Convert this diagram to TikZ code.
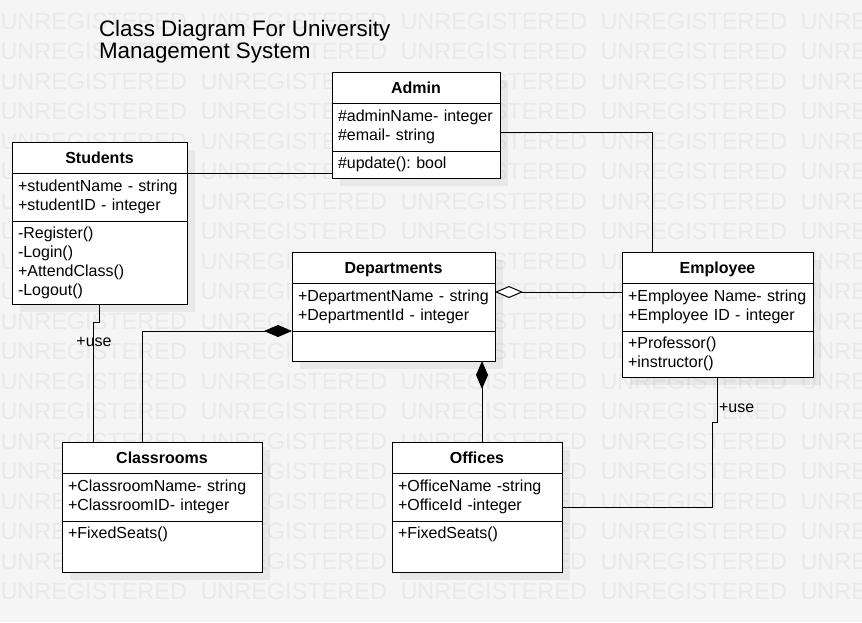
\documentclass[tikz,border=0pt]{standalone}
\usepackage{fontspec}
\setmainfont{Liberation Sans}
\usetikzlibrary{arrows.meta,shadows}
\definecolor{bggray}{HTML}{F5F5F5}
\definecolor{wmgray}{HTML}{E9E9E9}

\begin{document}
\frenchspacing
\begin{tikzpicture}
  [x=0.75pt,y=-0.75pt,line width=0.75pt,font=\fontsize{12}{14.25}\selectfont,
   wmtext/.style={anchor=west,inner sep=0pt,text=wmgray,font=\fontsize{17.6}{18}\selectfont},
   boxshadow/.style={drop shadow={shadow xshift=6pt,shadow yshift=-6pt,fill=black,opacity=0.05}},
   head/.style={draw,fill=white,anchor=north west,outer sep=0pt,boxshadow,
     font=\fontsize{12}{14.25}\selectfont\bfseries,minimum width=#1,minimum height=23.25pt,
     text height=8.6pt,text depth=0pt},
   part/.style 2 args={draw,fill=white,anchor=north west,outer sep=0pt,boxshadow,align=left,
     inner xsep=4.5pt,inner ysep=0pt,text width=#1,minimum height=#2},
   comp/.style={-{Diamond[length=21pt,width=9pt]}},
   aggr/.style={-{Diamond[open,fill=white,length=21pt,width=9pt]}},
   lbl/.style={inner sep=0pt}]

  \useasboundingbox (0,0) rectangle (862,622);
  \fill[bggray] (0,0) rectangle (862,622);

  % watermark
  \foreach \r in {0,...,19}
    \foreach \c in {0,...,4}
      \node[wmtext] (wm\r-\c) at (200*\c,21.5+30*\r) {UNREGISTERED};

  \node[anchor=north west,align=left,inner sep=0pt,font=\fontsize{16.8}{16.2}\selectfont] (title)
    at (98.5,20) {Class Diagram For University\\Management System};

  % classes
  \node[head=131.25pt] (stuH) at (12,142) {Students};
  \node[part={122.25pt}{36pt}] (stuA) at (stuH.south west) {+studentName - string\\+studentID - integer};
  \node[part={122.25pt}{62.25pt}] (stuM) at (stuA.south west) {-Register()\\-Login()\\+AttendClass()\\-Logout()};

  \node[head=126pt] (admH) at (332,72) {Admin};
  \node[part={117pt}{36pt}] (admA) at (admH.south west) {\#adminName- integer\\\#email- string};
  \node[part={117pt}{20.25pt}] (admM) at (admA.south west) {\#update(): bool};

  \node[head=152.25pt] (depH) at (292,252) {Departments};
  \node[part={143.25pt}{36pt}] (depA) at (depH.south west) {+DepartmentName - string\\+DepartmentId - integer};
  \node[part={143.25pt}{22.5pt}] (depM) at (depA.south west) {};

  \node[head=143.25pt] (empH) at (622,252) {Employee};
  \node[part={134.25pt}{36pt}] (empA) at (empH.south west) {+Employee Name- string\\+Employee ID - integer};
  \node[part={134.25pt}{34.5pt}] (empM) at (empA.south west) {+Professor()\\+instructor()};

  \node[head=150pt] (clsH) at (62,442) {Classrooms};
  \node[part={141pt}{36pt}] (clsA) at (clsH.south west) {+ClassroomName- string\\+ClassroomID- integer};
  \node[part={141pt}{38.25pt},text depth=20.4pt] (clsM) at (clsA.south west) {+FixedSeats()};

  \node[head=127.5pt] (offH) at (392,442) {Offices};
  \node[part={118.5pt}{36pt}] (offA) at (offH.south west) {+OfficeName -string\\+OfficeId -integer};
  \node[part={118.5pt}{38.25pt},text depth=20.4pt] (offM) at (offA.south west) {+FixedSeats()};

  % connectors
  \draw (stuH.south east) -- (stuH.south east -| admM.west);
  \draw ([yshift=-3.75pt]admA.east) -| ([xshift=22.5pt]empH.north west);
  \draw[aggr] ([yshift=11.25pt]empA.west) -- ([yshift=11.25pt]depA.east);
  \draw (stuM.south) -- ++(0,18) -| ([xshift=23.25pt]clsH.north west);
  \draw[comp] ([xshift=-15pt]clsH.north) |- (depA.south west);
  \draw[comp] ([xshift=3.75pt]offH.north) -- ([xshift=3.75pt]offH.north |- depM.south);
  \draw (empM.south) -- ++(0,45) -- ++(-5,0) |- ([yshift=-7.5pt]offA.east);

  \node[lbl] (useA) at (94,342) {+use};
  \node[lbl,anchor=west] (useB) at (718.5,408) {+use};

\end{tikzpicture}
\end{document}
